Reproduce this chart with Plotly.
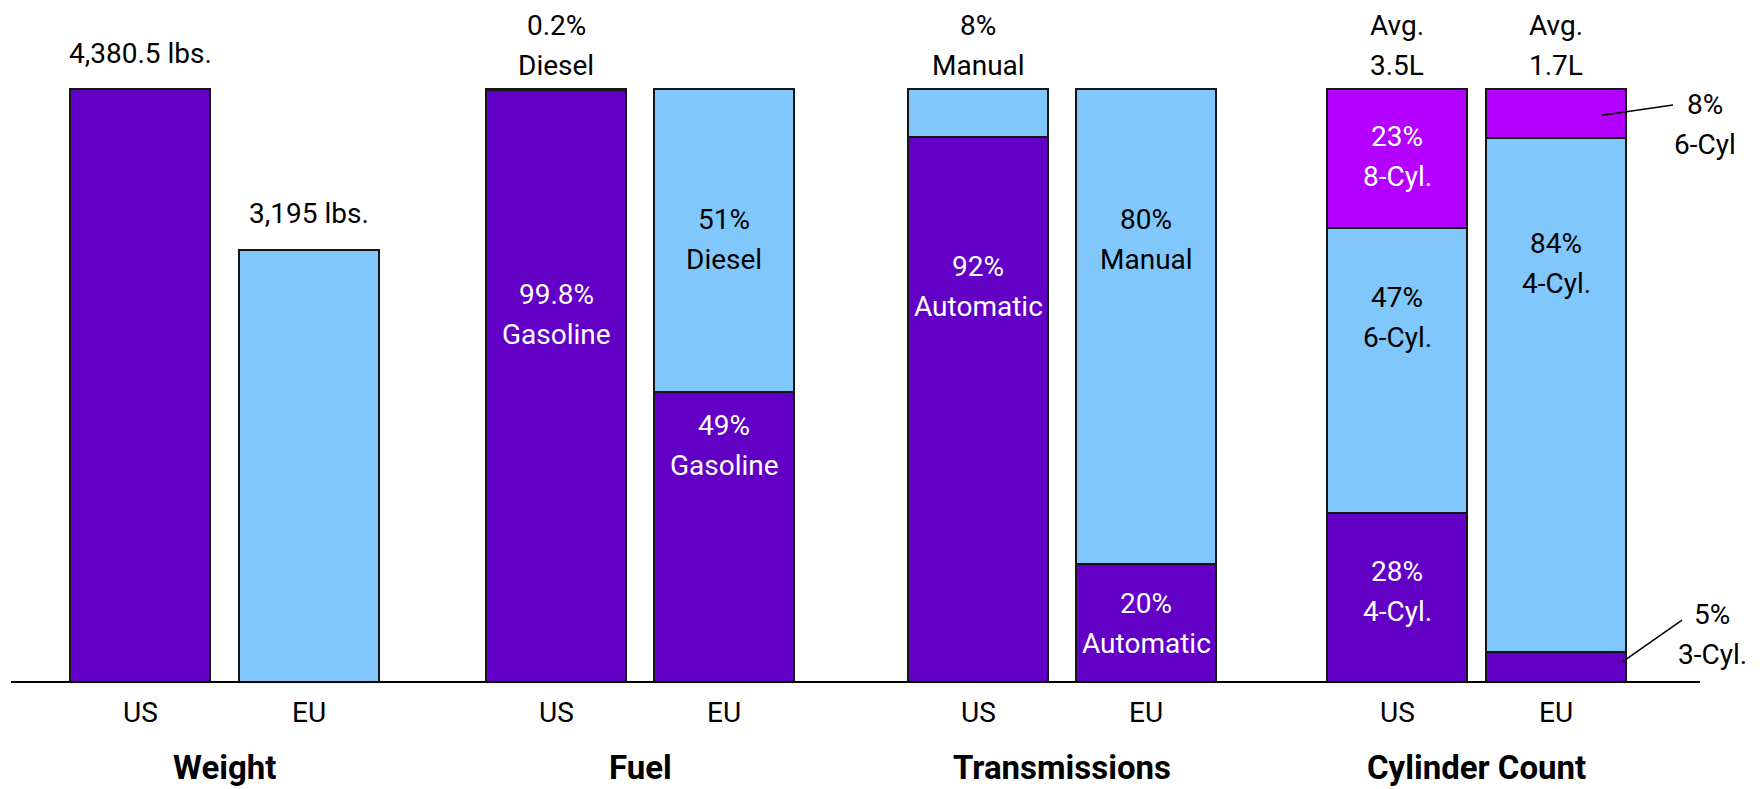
import plotly.graph_objects as go

# ---------------- data ----------------
groups = ["Weight", "Fuel", "Transmissions", "Cylinder Count"]
regions = ["US", "EU"]

weight_lbs = [4380.5, 3195]
weight_labels = ["4,380.5 lbs.", "3,195 lbs."]

fuel_gasoline = [99.8, 49]
fuel_diesel = [0.2, 51]

trans_automatic = [92, 20]
trans_manual = [8, 80]

# cylinder shares, bottom -> top of each stack
cyl_us_names = ["4-Cyl.", "6-Cyl.", "8-Cyl."]
cyl_us_share = [28, 47, 23]
cyl_eu_names = ["3-Cyl.", "4-Cyl.", "6-Cyl"]
cyl_eu_share = [5, 84, 8]
avg_displacement = ["3.5L", "1.7L"]

# ---------------- style / layout ----------------
W, H = 1763, 789
BASE_PX = 683          # baseline pixel row
TOP_PX = 89            # 100% pixel row
FULL = BASE_PX - TOP_PX
bar_w = 140
centers = [140, 309, 556, 724, 978, 1146, 1397, 1556]
DARK = "#6300C6"
LIGHT = "#80C8FC"
MAG = "#B300FF"
EDGE = "#151515"
FONT = "Roboto, sans-serif"
FS = 28
LINE_GAP = 40

pct_top = 100 * BASE_PX / FULL
w_top = max(weight_lbs) * BASE_PX / FULL


def shares(vals):
    t = sum(vals)
    return [100 * v / t for v in vals]


fig = go.Figure()

# weight bars (own y scale)
fig.add_trace(go.Bar(x=centers[0:2], y=weight_lbs, width=bar_w, yaxis="y2",
                     marker=dict(color=[DARK, LIGHT], line=dict(color=EDGE, width=2)),
                     showlegend=False, hoverinfo="skip"))

# percentage stacks (bottom, middle, top levels)
stacks = [
    (centers[2], shares([fuel_gasoline[0], fuel_diesel[0]])),
    (centers[3], shares([fuel_gasoline[1], fuel_diesel[1]])),
    (centers[4], shares([trans_automatic[0], trans_manual[0]])),
    (centers[5], shares([trans_automatic[1], trans_manual[1]])),
    (centers[6], shares(cyl_us_share)),
    (centers[7], shares(cyl_eu_share)),
]
level_colors = [DARK, LIGHT, MAG]
for lvl in range(3):
    xs, ys = [], []
    for cx, vals in stacks:
        if lvl < len(vals):
            xs.append(cx)
            ys.append(vals[lvl])
    fig.add_trace(go.Bar(x=xs, y=ys, width=bar_w, yaxis="y",
                         marker=dict(color=level_colors[lvl], line=dict(color=EDGE, width=2)),
                         showlegend=False, hoverinfo="skip"))

ann = []


def two_lines(x, y, l1, l2, color, yref="y", shift=0):
    for txt, off in ((l1, LINE_GAP / 2), (l2, -LINE_GAP / 2)):
        ann.append(dict(x=x, y=y, xref="x", yref=yref, text=txt, showarrow=False,
                        yanchor="middle", yshift=shift + off,
                        font=dict(family=FONT, size=FS, color=color), align="center"))


two_lines(centers[2], 62.1, f"{fuel_gasoline[0]}%", "Gasoline", "white")
two_lines(centers[3], 74.6, f"{fuel_diesel[1]}%", "Diesel", "black")
two_lines(centers[3], 39.9, f"{fuel_gasoline[1]}%", "Gasoline", "white")
two_lines(centers[4], 66.7, f"{trans_automatic[0]}%", "Automatic", "white")
two_lines(centers[5], 74.7, f"{trans_manual[1]}%", "Manual", "black")
two_lines(centers[5], 10.1, f"{trans_automatic[1]}%", "Automatic", "white")
two_lines(centers[6], 88.7, f"{cyl_us_share[2]}%", cyl_us_names[2], "white")
two_lines(centers[6], 61.6, f"{cyl_us_share[1]}%", cyl_us_names[1], "black")
two_lines(centers[6], 15.4, f"{cyl_us_share[0]}%", cyl_us_names[0], "white")
two_lines(centers[7], 70.7, f"{cyl_eu_share[1]}%", cyl_eu_names[1], "black")

# labels above bars
for i in range(2):
    ann.append(dict(x=centers[i], y=weight_lbs[i], xref="x", yref="y2", text=weight_labels[i],
                    showarrow=False, yanchor="middle", yshift=36,
                    font=dict(family=FONT, size=FS, color="black")))
two_lines(centers[2], 100, f"{fuel_diesel[0]}%", "Diesel", "black", shift=44)
two_lines(centers[4], 100, f"{trans_manual[0]}%", "Manual", "black", shift=44)
two_lines(centers[6], 100, "Avg.", avg_displacement[0], "black", shift=44)
two_lines(centers[7], 100, "Avg.", avg_displacement[1], "black", shift=44)

# callouts for thin EU cylinder segments
two_lines(1705, 94.1, f"{cyl_eu_share[2]}%", cyl_eu_names[2], "black")
two_lines(1712, 8.25, f"{cyl_eu_share[0]}%", cyl_eu_names[0], "black")

# region labels and group titles
for i, cx in enumerate(centers):
    ann.append(dict(x=cx, y=0, xref="x", yref="y", text=regions[i % 2], showarrow=False,
                    yanchor="middle", yshift=-(712 - BASE_PX),
                    font=dict(family=FONT, size=FS, color="black")))
for g in range(4):
    gx = (centers[2 * g] + centers[2 * g + 1]) / 2
    ann.append(dict(x=gx, y=0, xref="x", yref="y", text=f"<b>{groups[g]}</b>", showarrow=False,
                    yanchor="middle", yshift=-(767 - BASE_PX),
                    font=dict(family=FONT, size=33, color="black")))

shapes = [
    dict(type="line", xref="x", yref="y", x0=11, x1=1700, y0=0, y1=0,
         line=dict(color="black", width=4)),
    dict(type="line", xref="x", yref="y", x0=1602, y0=95.6, x1=1673, y1=97.3,
         line=dict(color="black", width=1.5)),
    dict(type="line", xref="x", yref="y", x0=1622, y0=3.5, x1=1682, y1=10.6,
         line=dict(color="black", width=1.5)),
]

fig.update_layout(
    width=W, height=H,
    margin=dict(l=0, r=0, t=0, b=H - BASE_PX),
    paper_bgcolor="white", plot_bgcolor="white",
    barmode="stack",
    xaxis=dict(range=[0, W], visible=False, fixedrange=True),
    yaxis=dict(range=[0, pct_top], visible=False, fixedrange=True),
    yaxis2=dict(range=[0, w_top], visible=False, overlaying="y", fixedrange=True),
    annotations=ann,
    shapes=shapes,
    showlegend=False,
)

fig.write_html("out.html", config={"displayModeBar": False, "staticPlot": True},
               post_script="document.body.style.margin='0px';document.body.style.overflow='hidden';")
